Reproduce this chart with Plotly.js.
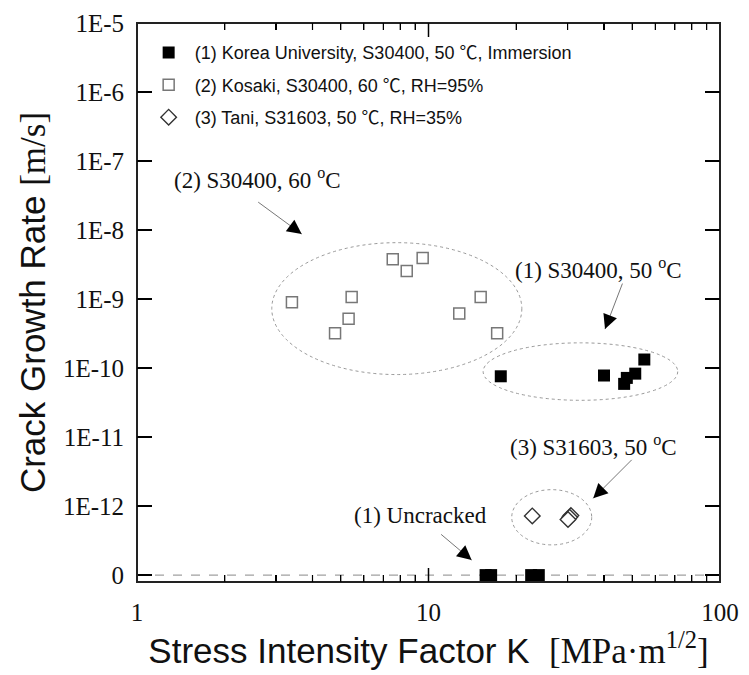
<!DOCTYPE html>
<html><head><meta charset="utf-8">
<script src="https://cdn.plot.ly/plotly-3.0.1.min.js"></script>
<style>body{margin:0;background:#fff}</style>
</head><body>
<div id="chart" style="width:749px;height:675px"></div>
<script>
// (1) Korea University, S30400, 50 ℃, Immersion
const koreaK    = [17.7, 40.0, 46.9, 47.9, 51.2, 55.0];
const koreaRate = [7.6e-11, 7.8e-11, 5.9e-11, 7.2e-11, 8.3e-11, 1.33e-10];
// (1) uncracked specimens, plotted on the "0" level
const uncrackedK    = [15.7, 16.4, 22.5, 23.9];
const uncrackedRate = [1e-13, 1e-13, 1e-13, 1e-13];
// (2) Kosaki, S30400, 60 ℃, RH=95%
const kosakiK    = [3.40, 5.45, 5.32, 4.78, 7.54, 8.42, 9.55, 12.75, 15.1, 17.2];
const kosakiRate = [9.0e-10, 1.07e-9, 5.2e-10, 3.2e-10, 3.76e-9, 2.54e-9, 3.93e-9, 6.2e-10, 1.07e-9, 3.2e-10];
// (3) Tani, S31603, 50 ℃, RH=35%
const taniK    = [22.7, 30.8, 30.5, 30.1];
const taniRate = [7.2e-13, 7.3e-13, 6.9e-13, 6.4e-13];

const degC = '<span style="font-family:\'Noto Sans CJK JP\'">\u2103</span>';
const seriesNames = [
  '(1) Korea University, S30400, 50 ' + degC + ', Immersion',
  '(2) Kosaki, S30400, 60 ' + degC + ', RH=95%',
  '(3) Tani, S31603, 50 ' + degC + ', RH=35%'
];

const xTickVals = [1, 10, 100];
const xTickText = ['1', '10', '100'];
const xMinorVals = [2,3,4,5,6,7,8,9,20,30,40,50,60,70,80,90];
const yTickVals = [1e-5, 1e-6, 1e-7, 1e-8, 1e-9, 1e-10, 1e-11, 1e-12, 1e-13];
const yTickText = ['1E-5','1E-6','1E-7','1E-8','1E-9','1E-10','1E-11','1E-12','0'];

const serif = 'Liberation Serif, Times New Roman, serif';
const sans = 'Liberation Sans, Arial, sans-serif';

const traces = [
  {x: koreaK, y: koreaRate, name: seriesNames[0], type: 'scatter', mode: 'markers',
   legendgroup: 'g1',
   marker: {symbol: 'square', size: 12, color: '#000', line: {width: 0}}},
  {x: uncrackedK, y: uncrackedRate, name: seriesNames[0], type: 'scatter', mode: 'markers',
   legendgroup: 'g1', showlegend: false,
   marker: {symbol: 'square', size: 12, color: '#000', line: {width: 0}}},
  {x: kosakiK, y: kosakiRate, name: seriesNames[1], type: 'scatter', mode: 'markers',
   legendgroup: 'g2',
   marker: {symbol: 'square-open', size: 11, color: '#777', line: {width: 1.5, color: '#777'}}},
  {x: taniK, y: taniRate, name: seriesNames[2], type: 'scatter', mode: 'markers',
   legendgroup: 'g3',
   marker: {symbol: 'diamond', size: 12, color: '#fff', line: {width: 1.4, color: '#333'}}}
];

const ell = (x0, x1, y0, y1) => ({type: 'circle', xref: 'x', yref: 'y', x0, x1, y0, y1,
  layer: 'below', line: {color: '#999', width: 1, dash: 'dot'}});

const txt = (x, y, text) => ({x, y, xref: 'x', yref: 'y', text, showarrow: false,
  xanchor: 'left', yanchor: 'middle', font: {family: serif, size: 23, color: '#111'}});
const shaft = (x, y, ax, ay) => ({x, y, xref: 'x', yref: 'y', ax, ay, text: '', showarrow: true,
  arrowhead: 0, arrowwidth: 1, arrowcolor: '#777', standoff: 0});
const head = (x, y, ax, ay) => {
  const L = Math.hypot(ax, ay), s = 9 / L;
  return {x, y, xref: 'x', yref: 'y', ax: ax * s, ay: ay * s, text: '', font: {size: 1},
    showarrow: true, arrowhead: 2, arrowsize: 2.4, arrowwidth: 1.2, arrowcolor: '#000', standoff: 0};
};

const arrows = [
  [0.565, -8.058, -45, -33],
  [1.6055, -9.435, 18, -47],
  [1.565, -11.888, 40, -40],
  [1.148, -12.783, -32, -27]
];

// tick marks drawn as axis-referenced shapes (plot area 583 x 559 px)
const PW = 583, PH = 559;
const xTick = (v, len, w) => [
  {type: 'line', xref: 'x', yref: 'paper', x0: v, x1: v, y0: 0, y1: len / PH, layer: 'above', line: {color: '#000', width: w}},
  {type: 'line', xref: 'x', yref: 'paper', x0: v, x1: v, y0: 1, y1: 1 - len / PH, layer: 'above', line: {color: '#000', width: w}}
];
const yTick = (v) => [
  {type: 'line', xref: 'paper', yref: 'y', x0: 0, x1: 15 / PW, y0: v, y1: v, layer: 'above', line: {color: '#000', width: 1.5}},
  {type: 'line', xref: 'paper', yref: 'y', x0: 1, x1: 1 - 9 / PW, y0: v, y1: v, layer: 'above', line: {color: '#000', width: 1.5}}
];
const tickShapes = []
  .concat(...xTickVals.slice(1, -1).map(v => xTick(v, 14, 1.5)))
  .concat(...xMinorVals.map(v => xTick(v, 7, 1.2)))
  .concat(...yTickVals.slice(1, -1).map(v => yTick(v)));

const layout = {
  width: 749, height: 675,
  margin: {l: 137, r: 29, t: 23, b: 93},
  paper_bgcolor: '#fff', plot_bgcolor: '#fff',
  showlegend: true,
  legend: {x: 0.0097, y: 0.98, xanchor: 'left', yanchor: 'top',
    font: {family: sans, size: 18, color: '#111'}, bgcolor: 'rgba(0,0,0,0)',
    tracegroupgap: 6, itemwidth: 42},
  xaxis: {type: 'log', range: [0, 2], tickmode: 'array', tickvals: xTickVals, ticktext: xTickText,
    ticks: 'inside', ticklen: 14, tickwidth: 1.5, tickcolor: '#000',
    showline: true, linecolor: '#222', linewidth: 1, mirror: 'ticks',
    showgrid: false, zeroline: false, ticklabelstandoff: 8,
    tickfont: {family: serif, size: 25, color: '#111'},
    minor: {tickmode: 'array', tickvals: xMinorVals, ticks: 'inside', ticklen: 7, tickwidth: 1.2, tickcolor: '#000', showgrid: false},
    title: {text: 'Stress Intensity Factor K  <span style="font-family:\'Liberation Serif\'">[MPa\u00b7m<sup>1/2</sup>]</span>',
      font: {family: sans, size: 35, color: '#111'}, standoff: 12}},
  yaxis: {type: 'log', range: [-13.1, -5], tickmode: 'array', tickvals: yTickVals, ticktext: yTickText,
    ticks: 'inside', ticklen: 15, tickwidth: 1.5, tickcolor: '#000',
    showline: true, linecolor: '#222', linewidth: 1, mirror: 'ticks',
    showgrid: false, zeroline: false, ticklabelstandoff: 7,
    tickfont: {family: serif, size: 25, color: '#111'},
    title: {text: 'Crack Growth Rate <span style="font-family:\'Liberation Serif\'">[m/s]</span>',
      font: {family: sans, size: 35, color: '#111'}, standoff: 6}},
  shapes: [
    {type: 'line', xref: 'paper', yref: 'y', x0: 0, x1: 1, y0: 1e-13, y1: 1e-13, layer: 'below',
     line: {color: '#888', width: 1, dash: 'dash'}},
    ell(2.90, 20.9, 6.56e-9, 8.05e-11),
    ell(15.4, 71.6, 2.32e-10, 3.41e-11),
    ell(19.3, 36.3, 1.73e-12, 2.74e-13),
    {type: 'rect', xref: 'paper', yref: 'paper', x0: 0, x1: 1, y0: 0, y1: 1, layer: 'above',
     line: {color: '#222', width: 2}, fillcolor: 'rgba(0,0,0,0)'}
  ].concat(tickShapes),
  annotations: [
    txt(0.120, -7.246, '(2) S30400, 60 <sup>o</sup>C'),
    txt(1.290, -8.551, '(1) S30400, 50 <sup>o</sup>C'),
    txt(1.273, -11.116, '(3) S31603, 50 <sup>o</sup>C'),
    txt(0.7376, -12.13, '(1) Uncracked')
  ].concat(arrows.map(a => shaft(...a))).concat(arrows.map(a => head(...a)))
};

Plotly.newPlot('chart', traces, layout, {displayModeBar: false, staticPlot: true});
</script>
</body></html>
